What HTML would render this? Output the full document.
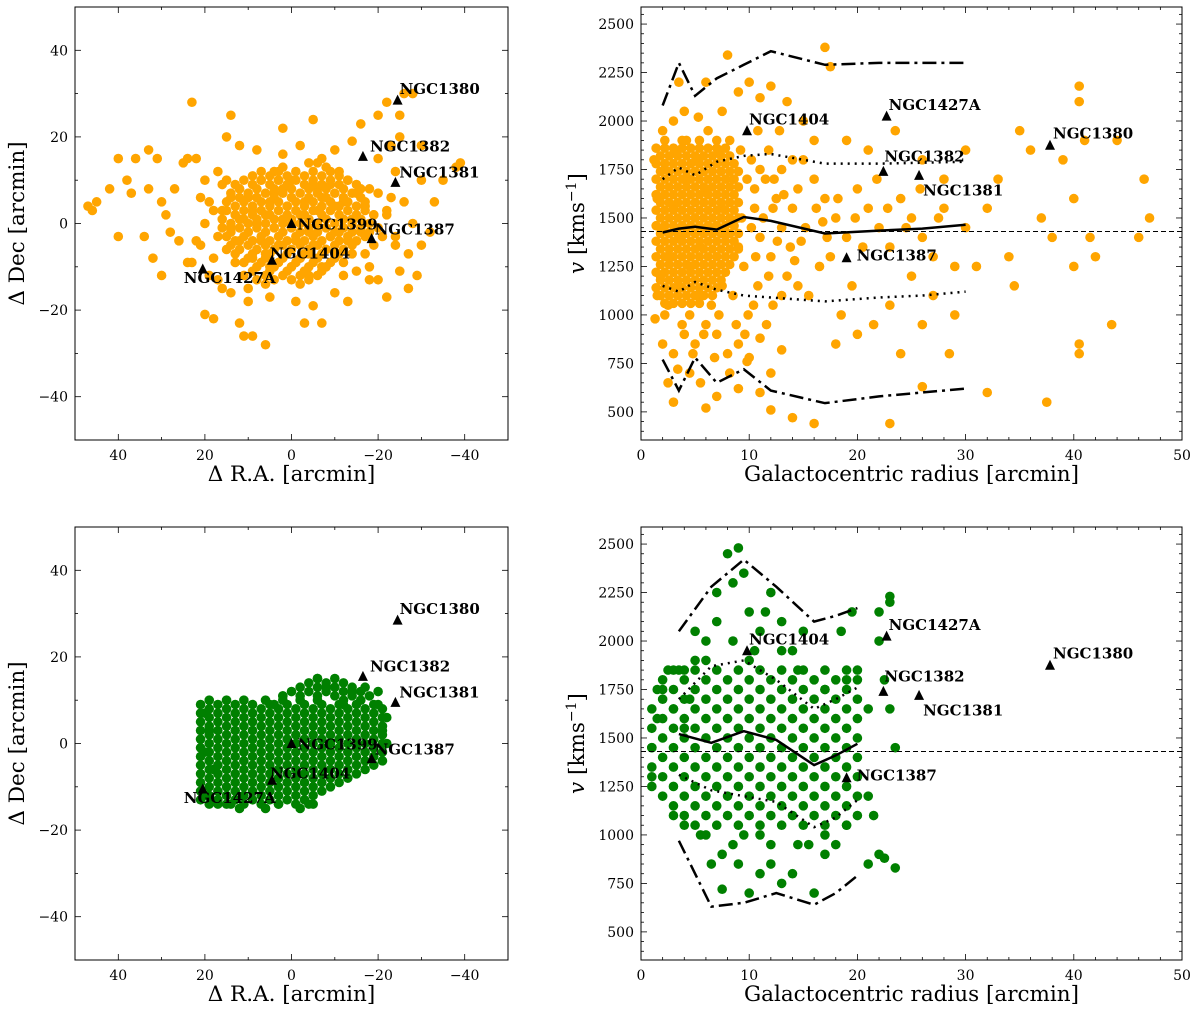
<!DOCTYPE html>
<html><head><meta charset="utf-8"><style>
html,body{margin:0;padding:0;background:#fff;}
svg{display:block;font-family:"DejaVu Serif","Liberation Serif",serif;}
</style></head><body>
<svg id="fig" width="1200" height="1014" viewBox="0 0 1200 1014" xmlns="http://www.w3.org/2000/svg"></svg>
<script>
// ---- data ----
const tlPoints=[[47,4],[46,3],[45,5],[40,15],[40,-3],[37,7],[36,15],[33,17],[33,8],[32,-8],[30,5],[29,2],[28,-2],[27,8],[25,14],[24,15],[23,28],[22,15],[20,10],[21,-5],[20,-21],[18,-22],[16,-15],[12,-23],[11,-26],[9,-26],[6,-28],[14,25],[15,20],[10,-18],[-7,-23],[-3,-23],[-5,24],[2,22],[-13,-18],[-20,-13],[-22,-17],[-18,-10],[-25,-11],[-27,-15],[-30,-5],[-32,-2],[-35,10],[-38,13],[-39,14],[-33,5],[-25,25],[-26,30],[-28,30],[-22,28],[-20,25],[-16,23],[-20,15],[-23,18],[-14,19],[-10,17],[-7,15],[-25,20],[-27,-7],[-22,2],[-28,0],[-24,12],[-30,18],[26,-4],[24,-9],[18,3],[17,12],[12,18],[8,17],[-30,10],[-26,5],[-24,-3],[-29,-12],[34,-3],[30,-12],[31,15],[38,10],[42,8],
[0,0],[2,1],[-2,2],[4,-1],[-4,-2],[1,4],[-1,-4],[6,2],[-6,3],[3,-5],[-3,5],[8,0],[-8,-1],[5,5],[-5,-5],[7,-4],[-7,6],[2,8],[-2,-8],[9,3],[-9,-3],[10,-2],[-10,4],[4,7],[-4,-7],[6,-7],[-6,8],[11,1],[-11,-2],[0,10],[0,-10],[3,10],[-3,-11],[8,6],[-8,-6],[12,-4],[-12,5],[13,2],[-13,-4],[5,-10],[-5,9],[9,-8],[-9,9],[10,6],[-10,-7],[14,-1],[-14,1],[15,-6],[-15,7],[12,8],[-12,-9],[7,10],[-7,-10],[4,12],[-4,-12],[16,3],[-16,-2],[17,-3],[-17,4],[18,-8],[-18,8],[13,-9],[-13,10],[11,-12],[-11,12],[8,-13],[-8,13],[15,10],[-15,-11],[2,13],[-2,-14],[20,0],[-20,-1],[19,5],[-19,-5],[22,-4],[-22,3],[14,6],[-14,-7],[6,-14],[-6,14],[10,-15],[-10,-16],
[-12,-12],[-4,14],[-17,-7],[-19,2],[-21,-3],[-23,6],[-24,-5],[-20,7],[-18,-13],[17,-13],[14,-16],[5,-17],[-1,-18],[-5,-19],[2,16],[-2,18],[16,9],[21,6],[23,-9],[19,-12]];
// dense core rows: [dec, [ra values]]
const tlCoreRows=[[12,[7,3,-1,-5,-9]],[11,[9,5,1,-3,-7,-11]],[10,[11,7,3,-1,-5,-9,-13]],[9,[13,9,5,1,-3,-7,-11,-15]],[8,[12,8,4,0,-4,-8,-12,-16]],[7,[14,10,6,2,-2,-6,-10,-14]],[6,[12,8,4,0,-4,-8,-12,-16]],[5,[15,11,7,3,-1,-5,-9,-13,-17]],[4,[13,9,5,1,-3,-7,-11,-15]],[3,[15,11,7,3,-1,-5,-9,-13,-17]],[2,[13,9,5,1,-3,-7,-11,-15,-19]],[1,[16,12,8,4,0,-4,-8,-12,-16]],[0,[14,10,6,2,-2,-6,-10,-14,-18]],[-1,[16,12,8,4,0,-4,-8,-12,-16]],[-2,[14,10,6,2,-2,-6,-10,-14,-18]],[-3,[15,11,7,3,-1,-5,-9,-13,-17]],[-4,[13,9,5,1,-3,-7,-11,-15]],[-5,[14,10,6,2,-2,-6,-10,-14]],[-6,[12,8,4,0,-4,-8,-12]],[-7,[13,9,5,1,-3,-7,-11]],[-8,[10,6,2,-2,-6,-10]],[-9,[11,7,3,-1,-5,-9]],[-10,[8,4,0,-4,-8]],[-11,[9,5,1,-3,-7]],[-12,[6,2,-2,-6]],[-13,[4,0,-4]]];

const trPoints=[[1.5,1600],[2,1450],[2.5,1300],[1.8,1200],[3,1550],[3.5,1400],[4,1700],[4.5,1250],[5,1500],[5.5,1350],[6,1650],[6.5,1450],[7,1300],[7.5,1550],[8,1420],[8.5,1700],[9,1350],[1.2,1800],[2.2,1750],[3.2,1850],[4.2,1900],[5.2,1800],[6.2,1950],[7.2,1850],[8.2,1900],[1.5,1100],[2.5,1050],[3.5,1150],[4.5,1000],[5.5,1100],[6.5,1050],[7.5,1150],[8.5,1100],[9.3,1500],[10.5,1550],[11,1400],[11.5,1700],[12,1300],[12.5,1600],[13,1450],[13.5,1200],[14,1550],[10.2,1800],[11.8,1850],[12.8,1950],[10.8,1150],[12.2,1050],[13.8,1350],[9.9,1000],[2,1950],[3,2000],[4,2050],[5.3,2020],[7.5,2050],[9,2150],[10,2200],[11,2120],[12,2180],[13.5,2100],[15,2000],[17,2380],[17.5,2280],[8,2340],[6,2200],[3.5,2200],[2,850],[3,800],[4,900],[5,850],[6,950],[7,900],[8,800],[9,850],[10,780],[11,880],[12,700],[13,820],[2.5,650],[3,550],[4.5,700],[5.5,650],[6,520],[7,580],[9,620],[11,600],[12,510],[14,470],[16,440],[15,1800],[16,1700],[17,1600],[18,1500],[19,1400],[20,1650],[21,1550],[22,1450],[23,1350],[24,1600],[25,1500],[26,1400],[27,1300],[28,1550],[29,1250],[30,1450],[15.5,1100],[16.5,1250],[18.5,1000],[19.5,1150],[21.5,950],[23,1050],[25,1200],[27,1100],[29,1000],[17.5,1300],[19,1900],[21,1850],[23.5,1950],[26,1800],[28,1700],[30,1850],[18,850],[20,900],[24,800],[26,950],[28.5,800],[23,440],[26,630],[32,600],[31,1250],[32,1550],[33,1700],[34,1300],[34.5,1150],[35,1950],[36,1850],[37,1500],[38,1400],[39,1800],[40,1600],[40.5,2100],[40.5,2180],[41,1900],[41.5,1400],[42,1300],[43.5,950],[44,1900],[46,1400],[46.5,1700],[47,1500],[40.5,850],[40.5,800],[37.5,550],[40,1250],[14.5,1650],[16,1900],[13,1750],[10.5,1650],
[9.5,1250],[10.2,1450],[11.3,1500],[12.6,1380],[13.2,1620],[14.2,1280],[15.2,1450],[16.2,1550],[17.2,1400],[9.8,1700],[11,1750],[12.2,1550],[14.8,1380],[10.6,1300],[11.8,1200],[13,1100],[14.5,1150],[16.8,1480],[18.2,1600],[19.8,1500],[20.5,1350],[21.8,1700],[22.8,1550],[24.5,1450],[25.8,1650],[27.5,1500],[9.2,1850],[10.8,1950],[12.3,1700],[14,1800],[8.8,950],[9.6,900],[10.4,1050],[11.6,950],[7.2,1000],[5.8,900],[3.8,950],[2.2,1000],[1.3,980],[4.8,800],[6.8,780],[3.4,720],[8.2,700],[9.8,760]];
// dense core rows: [v, [radius values]]
const trCoreRows=[[1900,[2.2,3.8,5.4,7.0]],[1860,[1.4,2.2,3.0,3.8,4.6,5.4,6.2,7.0,7.8]],[1820,[1.8,2.6,3.4,4.2,5.0,5.8,6.6,7.4,8.2]],[1780,[1.4,2.2,3.0,3.8,4.6,5.4,6.2,7.0,7.8,8.6]],[1740,[1.8,2.6,3.4,4.2,5.0,5.8,6.6,7.4,8.2,9.0]],[1700,[1.4,2.2,3.0,3.8,4.6,5.4,6.2,7.0,7.8,8.6]],[1660,[1.8,2.6,3.4,4.2,5.0,5.8,6.6,7.4,8.2,9.0]],[1620,[1.4,2.2,3.0,3.8,4.6,5.4,6.2,7.0,7.8,8.6]],[1580,[1.8,2.6,3.4,4.2,5.0,5.8,6.6,7.4,8.2,9.0]],[1540,[1.4,2.2,3.0,3.8,4.6,5.4,6.2,7.0,7.8,8.6]],[1500,[1.8,2.6,3.4,4.2,5.0,5.8,6.6,7.4,8.2,9.0]],[1460,[1.4,2.2,3.0,3.8,4.6,5.4,6.2,7.0,7.8,8.6]],[1420,[1.8,2.6,3.4,4.2,5.0,5.8,6.6,7.4,8.2,9.0]],[1380,[1.4,2.2,3.0,3.8,4.6,5.4,6.2,7.0,7.8,8.6]],[1340,[1.8,2.6,3.4,4.2,5.0,5.8,6.6,7.4,8.2,9.0]],[1300,[1.4,2.2,3.0,3.8,4.6,5.4,6.2,7.0,7.8,8.6]],[1260,[1.8,2.6,3.4,4.2,5.0,5.8,6.6,7.4,8.2]],[1220,[1.4,2.2,3.0,3.8,4.6,5.4,6.2,7.0,7.8]],[1180,[1.8,2.6,3.4,4.2,5.0,5.8,6.6,7.4]],[1140,[1.4,2.2,3.0,3.8,4.6,5.4,6.2,7.0]],[1100,[1.8,2.6,3.4,4.2,5.0,5.8,6.6]],[1060,[2.2,3.0,3.8,4.6,5.4]]];

const blPoints=[[20,7],[19,3],[20,-2],[18,-6],[20,-12],[17,-14],[-6,15],[-8,13],[-10,13],[-14,12],[-20,12],[-17,13],[-12,9],[-22,6],[-22,0],[-21,3],[-20,9],[0,12],[2,11],[4,9],[-4,-14],[3,-14],[12,-15],[6,-15],[-2,-15],[14,-14]];
// dense blob rows: [dec, [ra values]]
const blRows=[[15,[-6,-10]],[14,[-4,-8,-12]],[13,[-2,-6,-10,-14]],[12,[-4,-8,-12,-16]],[11,[2,-2,-6,-10,-14,-18]],[10,[19,15,11,6,2,-2,-6,-12,-16]],[9,[21,17,13,9,5,1,-3,-7,-11,-15,-19]],[8,[19,15,11,7,3,-1,-5,-9,-13,-17,-21]],[7,[21,17,13,9,5,1,-3,-7,-11,-15,-19]],[6,[19,15,11,7,3,-1,-5,-9,-13,-17,-21]],[5,[21,17,13,9,5,1,-3,-7,-11,-15,-19]],[4,[19,15,11,7,3,-1,-5,-9,-13,-17,-21]],[3,[21,17,13,9,5,1,-3,-7,-11,-15,-19]],[2,[19,15,11,7,3,-1,-5,-9,-13,-17,-21]],[1,[21,17,13,9,5,1,-3,-7,-11,-15,-19]],[0,[19,15,11,7,3,-1,-5,-9,-13,-17,-21]],[-1,[21,17,13,9,5,1,-3,-7,-11,-15,-19]],[-2,[19,15,11,7,3,-1,-5,-9,-13,-17,-21]],[-3,[21,17,13,9,5,1,-3,-7,-11,-15,-19]],[-4,[19,15,11,7,3,-1,-5,-9,-13,-17,-21]],[-5,[21,17,13,9,5,1,-3,-7,-11,-15,-19]],[-6,[19,15,11,7,3,-1,-5,-9,-13,-17]],[-7,[21,17,13,9,5,1,-3,-7,-11,-15]],[-8,[19,15,11,7,3,-1,-5,-9,-13]],[-9,[21,17,13,9,5,1,-3,-7,-11]],[-10,[19,15,11,7,3,-1,-5,-9]],[-11,[21,17,13,9,5,1,-3,-7]],[-12,[19,15,11,7,3,-1,-5]],[-13,[21,17,13,9,5,1,-3]],[-14,[19,15,11,7,3,-1,-5]]];

const brPoints=[[1,1450],[1.5,1600],[2,1750],[3,1650],[3.5,1850],[4,1550],[4.5,1700],[5,1900],[6,1000],[7,2100],[7.5,900],[8,2450],[8.5,2000],[9,850],[9.5,2350],[10.5,1950],[11,800],[11.5,2150],[12,950],[13,1950],[14,800],[14.5,1850],[15.5,950],[17,900],[18.5,2050],[20,1850],[22,900],[22,2000],[22.5,1800],[23,2200],[23,1650],[23.5,1450],[23.5,830],[21,850],[22.5,880],[2.5,1850],[4,1850],[7,2250],[8.5,2300],[9,2480],[10,2150],[11,2050],[12,2250],[6,2000],[5,2050],[13,2100],[15,2050],[19.5,2150],[22,2150],[23,2230],[5.5,1000],[6.5,850],[7.5,720],[8.5,950],[10,700],[12,850],[13,750],[16,700],[14.5,950],[18,950],[17,1000],[19,1050],[4,1050],[3,1100],[11,1000],[9.5,1000],[21,1650],[21,1200],[21.5,1100],[1,1300],[1.5,1750],[6,1900],[10,1900],[14,1950],[17,1750],[19,1800]];
// dense rows: [v, [radius values]]
const brRows=[[1850,[3,5,7,9,11,13,15,17,19]],[1800,[2,4,6,8,10,12,14,16,18,20]],[1750,[3,5,7,9,11,13,15,17,19]],[1700,[2,4,6,8,10,12,14,16,18,20]],[1650,[1,3,5,7,9,11,13,15,17,19]],[1600,[2,4,6,8,10,12,14,16,18,20]],[1550,[1,3,5,7,9,11,13,15,17,19]],[1500,[2,4,6,8,10,12,14,16,18,20]],[1450,[1,3,5,7,9,11,13,15,17,19]],[1400,[2,4,6,8,10,12,14,16,18,20]],[1350,[1,3,5,7,9,11,13,15,17,19]],[1300,[2,4,6,8,10,12,14,16,18,20]],[1250,[1,3,5,7,9,11,13,15,17,19]],[1200,[2,4,6,8,10,12,14,16,18,20]],[1150,[3,5,7,9,11,13,15,17,19]],[1100,[4,6,8,10,12,14,16,18,20]],[1050,[5,7,9,11,13,15,17,19]]];

const galLeft=["NGC1380","NGC1382","NGC1381","NGC1399","NGC1387","NGC1404","NGC1427A"];
const galLeftRA=[-24.5,-16.5,-24,0,-18.5,4.5,20.5];
const galLeftDec=[28.5,15.5,9.5,0,-3.5,-8.5,-10.5];
const galRight=["NGC1404","NGC1427A","NGC1382","NGC1381","NGC1380","NGC1387"];
const galRightR=[9.8,22.7,22.4,25.7,37.8,19];
const galRightV=[1950,2025,1740,1720,1875,1295];

const trR=[2,3.5,5,7,9.5,12,17,22,26,30];
const trMean=[1425,1445,1455,1440,1505,1485,1420,1435,1445,1465];
const trSigUp=[1700,1760,1720,1790,1820,1830,1780,1780,1785,1790];
const trSigLo=[1150,1120,1170,1130,1100,1090,1070,1090,1100,1120];
const tr3Up=[2080,2300,2130,2220,2290,2360,2290,2300,2300,2300];
const tr3Lo=[770,610,780,650,720,610,545,580,600,620];

const brR=[3.5,6.5,9.5,12.5,16,18,20];
const brMean=[1520,1475,1535,1490,1360,1410,1470];
const brSigUp=[1700,1870,1900,1800,1650,1700,1760];
const brSigLo=[1310,1230,1200,1170,1040,1090,1180];
const br3Up=[2050,2280,2420,2280,2100,2130,2170];
const br3Lo=[970,630,650,700,640,700,790];

const meanV=1430;

// ---- drawing ----
const NS="http://www.w3.org/2000/svg";
const svg=document.getElementById('fig');
function mk(tag,attrs,parent){const e=document.createElementNS(NS,tag);for(const k in attrs)e.setAttribute(k,attrs[k]);(parent||svg).appendChild(e);return e;}
function lin(d0,d1,r0,r1){return v=>r0+(v-d0)*(r1-r0)/(d1-d0);}
function expand(rows){const out=[];rows.forEach(r=>r[1].forEach(x=>out.push([x,r[0]])));return out;}

function makePanel(name,box,xd,yd,xt,yt,xminor,yminor,xlab,ylab){
  const g=mk('g',{});
  
  
  const sx=lin(xd[0],xd[1],box.x0,box.x1), sy=lin(yd[0],yd[1],box.y1,box.y0);
  const defs=mk('clipPath',{id:name+'-clip'},g);
  mk('rect',{x:box.x0,y:box.y0,width:box.x1-box.x0,height:box.y1-box.y0},defs);
  const plot=mk('g',{'clip-path':'url(#'+name+'-clip)'},g);
  
  
  const tg=mk('g',{stroke:'#000','stroke-width':0.8},g);
  
  
  const xlo=Math.min(xd[0],xd[1]),xhi=Math.max(xd[0],xd[1]);
  for(let v=Math.ceil(xlo/xminor)*xminor;v<=xhi+1e-9;v+=xminor){
    const major=xt.some(t=>Math.abs(t-v)<1e-9);const L=major?6:3;const X=sx(v);
    mk('line',{x1:X,x2:X,y1:box.y1,y2:box.y1-L},tg);mk('line',{x1:X,x2:X,y1:box.y0,y2:box.y0+L},tg);
  }
  for(let v=Math.ceil(yd[0]/yminor)*yminor;v<=yd[1]+1e-9;v+=yminor){
    const major=yt.some(t=>Math.abs(t-v)<1e-9);const L=major?6:3;const Y=sy(v);
    mk('line',{y1:Y,y2:Y,x1:box.x0,x2:box.x0+L},tg);mk('line',{y1:Y,y2:Y,x1:box.x1,x2:box.x1-L},tg);
  }
  xt.forEach(v=>{const t=mk('text',{x:sx(v),y:box.y1+20,'text-anchor':'middle','font-size':14},g);t.textContent=(v<0?'\u2212'+(-v):v);
    });
  yt.forEach(v=>{const t=mk('text',{x:box.x0-7,y:sy(v)+5,'text-anchor':'end','font-size':14},g);t.textContent=(v<0?'\u2212'+(-v):v);
    });
  const xl=mk('text',{x:(box.x0+box.x1)/2,y:box.y1+41,'text-anchor':'middle','font-size':21.5},g);xl.textContent=xlab;
  
  const yx=box.x0-(ylab.v?57:51),yy=(box.y0+box.y1)/2;
  const yl=mk('text',{x:yx,y:yy,'text-anchor':'middle','font-size':21.5,transform:'rotate(-90 '+yx+' '+yy+')'},g);
  if(ylab.v){const a=mk('tspan',{'font-style':'italic'},yl);a.textContent='v';const b=mk('tspan',{},yl);b.textContent=' [kms';
    const c=mk('tspan',{'font-size':14,dy:-8},yl);c.textContent='\u22121';const d=mk('tspan',{dy:8},yl);d.textContent=']';}
  else yl.textContent=ylab.t;
  
  const frame=mk('rect',{x:box.x0,y:box.y0,width:box.x1-box.x0,height:box.y1-box.y0,fill:'none',stroke:'#000','stroke-width':1},g);
  
  return {g,plot,sx,sy};
}
function dots(p,pts,color){
  pts.forEach(d=>{const c=mk('circle',{cx:p.sx(d[0]),cy:p.sy(d[1]),r:4.8,fill:color},p.plot);
    });
}
function poly(p,xs,ys,dash,w,name){
  const pts=xs.map((x,i)=>p.sx(x)+','+p.sy(ys[i])).join(' ');
  const l=mk('polyline',{points:pts,fill:'none',stroke:'#000','stroke-width':w,'stroke-dasharray':dash},p.plot);
  
}
function tri(p,x,y,label,dx,dy){
  const X=p.sx(x),Y=p.sy(y);
  const t=mk('polygon',{points:(X-5)+','+(Y+4.5)+' '+(X+5)+','+(Y+4.5)+' '+X+','+(Y-5.5),fill:'#000'},p.g);
  
  const s=mk('text',{x:X+dx,y:Y+dy,'font-size':15,'font-weight':'bold'},p.g);s.textContent=label;
  
}
function hline(p,v,x0,x1){
  const l=mk('line',{x1:x0,x2:x1,y1:p.sy(v),y2:p.sy(v),stroke:'#000','stroke-width':1,'stroke-dasharray':'5,3'},p.plot);
  
}
const leftOff={NGC1380:[2,-6],NGC1382:[7,-5],NGC1381:[4,-5],NGC1399:[6,6],NGC1387:[3,-4],NGC1404:[-2,-2],NGC1427A:[-19,14]};
const rightOff={NGC1404:[2,-6],NGC1427A:[2,-6],NGC1382:[1,-10],NGC1381:[4,20],NGC1380:[3,-7],NGC1387:[10,3]};

[[0,'#ffa500',tlPoints.concat(expand(tlCoreRows)),trPoints.concat(expand(trCoreRows)),[trR,trMean,trSigUp,trSigLo,tr3Up,tr3Lo]],
 [520,'#008000',blPoints.concat(expand(blRows)),brPoints.concat(expand(brRows)),[brR,brMean,brSigUp,brSigLo,br3Up,br3Lo]]].forEach((row,ri)=>{
  const off=row[0];
  const L=makePanel(ri?'bottom-left-panel':'top-left-panel',{x0:75,x1:508,y0:7+off,y1:440+off},[50,-50],[-50,50],[40,20,0,-20,-40],[40,20,0,-20,-40],10,10,'\u0394 R.A. [arcmin]',{t:'\u0394 Dec [arcmin]'});
  dots(L,row[2],row[1]);
  galLeft.forEach((n,i)=>tri(L,galLeftRA[i],galLeftDec[i],n,leftOff[n][0],leftOff[n][1]));
  const R=makePanel(ri?'bottom-right-panel':'top-right-panel',{x0:641,x1:1182,y0:7+off,y1:440+off},[0,50],[355,2588],[0,10,20,30,40,50],[500,750,1000,1250,1500,1750,2000,2250,2500],2,50,'Galactocentric radius [arcmin]',{v:true});
  dots(R,row[3],row[1]);
  hline(R,meanV,641,1182);
  const ln=row[4];
  poly(R,ln[0],ln[1],'none',2.5,'mean-line');
  poly(R,ln[0],ln[2],'2,5',2.5,'sigma-upper-line');
  poly(R,ln[0],ln[3],'2,5',2.5,'sigma-lower-line');
  poly(R,ln[0],ln[4],'14,5,3,5',2.5,'three-sigma-upper-line');
  poly(R,ln[0],ln[5],'14,5,3,5',2.5,'three-sigma-lower-line');
  galRight.forEach((n,i)=>tri(R,galRightR[i],galRightV[i],n,rightOff[n][0],rightOff[n][1]));
});
</script>
</body></html>
